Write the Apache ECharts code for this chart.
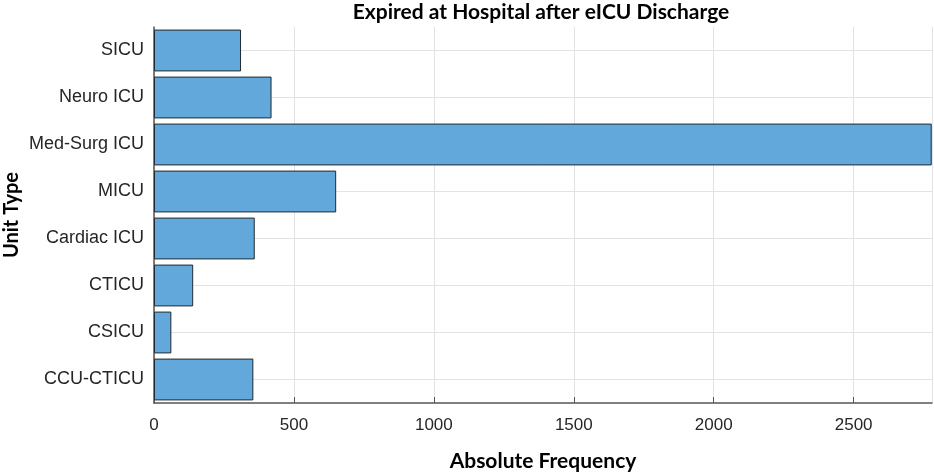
<!DOCTYPE html>
<html>
<head>
<meta charset="utf-8">
<script src="https://cdn.jsdelivr.net/npm/echarts@6/dist/echarts.min.js"></script>
<style>
html,body{margin:0;padding:0;background:#fff;}
#chart{width:934px;height:474px;}
</style>
</head>
<body>
<div id="chart"></div>
<script>
const categories = ['CCU-CTICU', 'CSICU', 'CTICU', 'Cardiac ICU', 'MICU', 'Med-Surg ICU', 'Neuro ICU', 'SICU'];
const frequencies = [355, 62, 140, 360, 651, 2779, 420, 311];
const xTicks = [0, 500, 1000, 1500, 2000, 2500];

const chart = echarts.init(document.getElementById('chart'));
chart.setOption({
  animation: false,
  backgroundColor: '#ffffff',
  title: {
    text: 'Expired at Hospital after eICU Discharge',
    left: 536,
    textAlign: 'center',
    top: -3,
    textStyle: { fontFamily: 'Lato', fontWeight: 'bold', fontSize: 21, color: '#000' }
  },
  grid: { left: 154, right: 2, top: 27, bottom: 71, containLabel: false, outerBoundsMode: 'none' },
  xAxis: {
    type: 'value',
    min: 0,
    max: 2780,
    interval: 500,
    name: 'Absolute Frequency',
    nameLocation: 'middle',
    nameGap: 48,
    nameMoveOverlap: false,
    nameTextStyle: { fontFamily: 'Lato', fontWeight: 'bold', fontSize: 21, color: '#000' },
    axisLine: { show: true, lineStyle: { color: '#555', width: 1.5 } },
    axisTick: { show: true, inside: true, length: 6, lineStyle: { color: '#555' } },
    axisLabel: {
      fontFamily: 'Liberation Sans', fontSize: 17, color: '#262626', margin: 14,
      showMaxLabel: false,
      formatter: v => (xTicks.indexOf(v) >= 0 ? String(v) : '')
    },
    splitLine: { show: true, lineStyle: { color: '#e3e3e3', width: 1 } }
  },
  yAxis: {
    type: 'category',
    data: categories,
    name: 'Unit Type',
    nameLocation: 'middle',
    nameGap: 132,
    nameMoveOverlap: false,
    nameRotate: 90,
    nameTextStyle: { fontFamily: 'Lato', fontWeight: 'bold', fontSize: 20, color: '#000' },
    axisLine: { show: true, lineStyle: { color: '#555', width: 1.5 } },
    axisTick: { show: true, inside: true, alignWithLabel: true, length: 6, lineStyle: { color: '#555' } },
    axisLabel: { fontFamily: 'Liberation Sans', fontSize: 18, color: '#262626', margin: 10 },
    splitLine: { show: true, alignWithLabel: true, lineStyle: { color: '#e3e3e3', width: 1 } }
  },
  series: [{
    type: 'bar',
    data: frequencies,
    barCategoryGap: '11%',
    itemStyle: { color: '#62a8da', borderColor: '#1f2a33', borderWidth: 1 }
  }]
});
</script>
</body>
</html>
